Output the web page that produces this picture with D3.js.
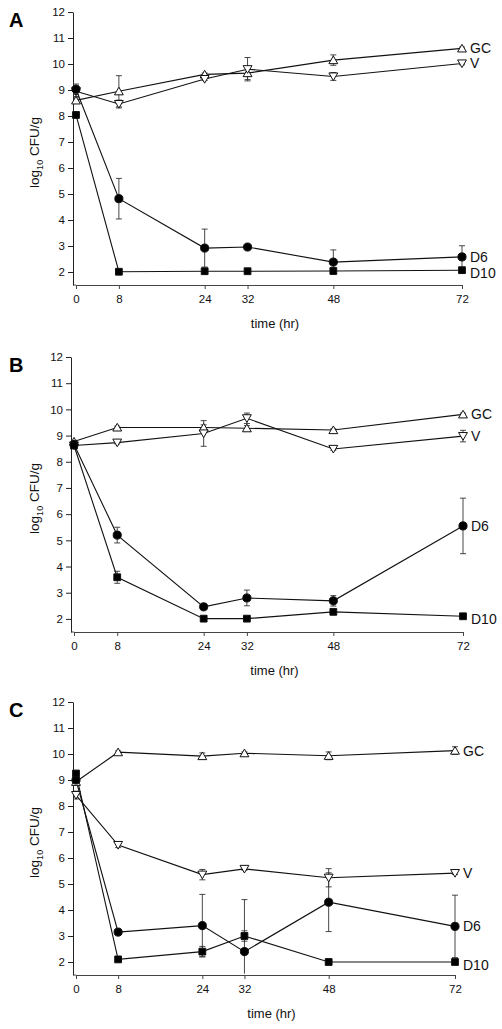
<!DOCTYPE html>
<html><head><meta charset="utf-8">
<script src="https://cdn.jsdelivr.net/npm/d3@7"></script>
<style>body{margin:0;background:#fff}svg{display:block}</style>
</head><body>
<script>
const times = [0, 8, 24, 32, 48, 72];
const panelNames = ["A", "B", "C"];
const seriesNames = ["GC", "V", "D6", "D10"];
const yTicks = [2, 3, 4, 5, 6, 7, 8, 9, 10, 11, 12];

// Panel A
const gcA = [8.6, 8.95, 9.6, 9.65, 10.15, 10.6];
const gcAErr = [0.1, 0.6, 0.05, 0.25, 0.2, 0.05];
const vA = [8.95, 8.46, 9.42, 9.8, 9.52, 10.02];
const vAErr = [0.2, 0.15, 0.05, 0.45, 0.15, 0.05];
const d6A = [9.03, 4.82, 2.92, 2.96, 2.38, 2.58];
const d6AErr = [0.2, 0.78, 0.73, 0.05, 0.47, 0.43];
const d10A = [8.04, 2.01, 2.03, 2.03, 2.04, 2.07];
const d10AErr = [0, 0, 0, 0, 0, 0];

// Panel B
const gcB = [8.77, 9.31, 9.31, 9.28, 9.21, 9.81];
const gcBErr = [0.05, 0.05, 0.1, 0.1, 0.05, 0.05];
const vB = [8.62, 8.73, 9.08, 9.66, 8.49, 8.98];
const vBErr = [0.05, 0.05, 0.49, 0.2, 0.05, 0.22];
const d6B = [8.66, 5.2, 2.46, 2.8, 2.69, 5.55];
const d6BErr = [0.1, 0.3, 0.05, 0.3, 0.2, 1.06];
const d10B = [8.62, 3.59, 2.01, 2.01, 2.27, 2.1];
const d10BErr = [0.05, 0.23, 0, 0, 0.1, 0];

// Panel C
const gcC = [8.93, 10.07, 9.92, 10.03, 9.93, 10.13];
const gcCErr = [0.1, 0.05, 0.12, 0.05, 0.15, 0.15];
const vC = [8.42, 6.5, 5.36, 5.58, 5.24, 5.42];
const vCErr = [0.15, 0.1, 0.2, 0.05, 0.35, 0.05];
const d6C = [9.0, 3.15, 3.4, 2.4, 4.3, 3.37];
const d6CErr = [0.1, 0.05, 1.2, 2.0, 1.13, 1.2];
const d10C = [9.25, 2.1, 2.4, 3.0, 2.0, 2.0];
const d10CErr = [0.1, 0.05, 0.2, 0.2, 0.05, 0.05];

const panelData = {
  A: [[gcA, gcAErr], [vA, vAErr], [d6A, d6AErr], [d10A, d10AErr]],
  B: [[gcB, gcBErr], [vB, vBErr], [d6B, d6BErr], [d10B, d10BErr]],
  C: [[gcC, gcCErr], [vC, vCErr], [d6C, d6CErr], [d10C, d10CErr]]
};

// layout (pixels)
const layout = {
  A: {x0: 76, x1: 462, yTop: 12, yBot: 285},
  B: {x0: 74, x1: 463, yTop: 357, yBot: 632},
  C: {x0: 76, x1: 455, yTop: 702, yBot: 975}
};

const svg = d3.select("body").append("svg").attr("width", 502).attr("height", 1029)
  .style("font-family", "Liberation Sans, Arial, sans-serif");
svg.append("rect").attr("width", 502).attr("height", 1029).attr("fill", "#fff");

const symbols = [
  d3.symbol().type(d3.symbolTriangle).size(34),
  d3.symbol().type(d3.symbolTriangle).size(34),
  d3.symbol().type(d3.symbolCircle).size(52),
  d3.symbol().type(d3.symbolSquare).size(46)
];
const fills = ["#fff", "#fff", "#000", "#000"];
const rot = [0, 180, 0, 0];

panelNames.forEach(p => {
  const L = layout[p];
  const x = d3.scaleLinear().domain([0, 72]).range([L.x0, L.x1]);
  const y = d3.scaleLinear().domain([1.5, 12]).range([L.yBot, L.yTop]);
  const g = svg.append("g");

  // y axis
  const yAx = g.append("g").attr("transform", `translate(${L.x0 - 3},0)`)
    .call(d3.axisLeft(y).tickValues(yTicks).tickSize(5).tickPadding(3).tickSizeOuter(0));
  yAx.select(".domain").attr("stroke", "#222");
  yAx.selectAll(".tick line").attr("stroke", "#222");
  yAx.selectAll("text").attr("font-size", 11.5).attr("fill", "#111");

  // x axis
  const xAx = g.append("g").attr("transform", `translate(0,${L.yBot})`)
    .call(d3.axisBottom(x).tickValues(times).tickSize(4).tickPadding(6).tickSizeOuter(0));
  xAx.select(".domain").attr("stroke", "#444");
  xAx.selectAll(".tick line").attr("stroke", "#444");
  xAx.selectAll("text").attr("font-size", 11.5).attr("fill", "#111");
  g.append("line").attr("x1", L.x0 - 3).attr("x2", L.x0).attr("y1", L.yBot).attr("y2", L.yBot).attr("stroke", "#444");

  g.append("text").attr("x", (L.x0 + L.x1) / 2 + 6).attr("y", L.yBot + 43)
    .attr("text-anchor", "middle").attr("font-size", 13).attr("fill", "#111").text("time (hr)");

  const yl = g.append("text").attr("transform", `translate(39,${(L.yTop + L.yBot) / 2 + 4}) rotate(-90)`)
    .attr("text-anchor", "middle").attr("font-size", 13.5).attr("fill", "#111");
  yl.append("tspan").text("log");
  yl.append("tspan").attr("font-size", 9).attr("dy", 4).text("10");
  yl.append("tspan").attr("dy", -4).text(" CFU/g");

  g.append("text").attr("x", 9).attr("y", L.yTop + 15).attr("font-size", 20)
    .attr("font-weight", "bold").attr("fill", "#000").text(p);

  const line = d3.line().x((d, i) => x(times[i])).y(d => y(d));

  panelData[p].forEach(([vals, errs], si) => {
    // error bars
    vals.forEach((v, i) => {
      if (!errs[i]) return;
      const hi = y(Math.min(12, v + errs[i])), lo = y(Math.max(1.55, v - errs[i]));
      const cx = x(times[i]);
      g.append("line").attr("x1", cx).attr("x2", cx).attr("y1", hi).attr("y2", lo).attr("stroke", "#333").attr("stroke-width", 0.9);
      g.append("line").attr("x1", cx - 3).attr("x2", cx + 3).attr("y1", hi).attr("y2", hi).attr("stroke", "#333").attr("stroke-width", 0.9);
      if (v - errs[i] > 1.55)
        g.append("line").attr("x1", cx - 3).attr("x2", cx + 3).attr("y1", lo).attr("y2", lo).attr("stroke", "#333").attr("stroke-width", 0.9);
    });
    g.append("path").datum(vals).attr("d", line).attr("fill", "none").attr("stroke", "#111").attr("stroke-width", 1.1);
  });

  panelData[p].forEach(([vals, errs], si) => {
    g.selectAll(null).data(vals).enter().append("path")
      .attr("d", symbols[si])
      .attr("transform", (d, i) => `translate(${x(times[i])},${y(d) + (si === 0 ? 1 : si === 1 ? -1 : 0)}) rotate(${rot[si]})`)
      .attr("fill", fills[si]).attr("stroke", "#111").attr("stroke-width", 1);
    g.append("text").attr("x", x(72) + 8).attr("y", y(vals[5]) + 5 + (si === 3 ? 3 : 0))
      .attr("font-size", 14).attr("fill", "#111").text(seriesNames[si]);
  });
});
</script>
</body></html>
